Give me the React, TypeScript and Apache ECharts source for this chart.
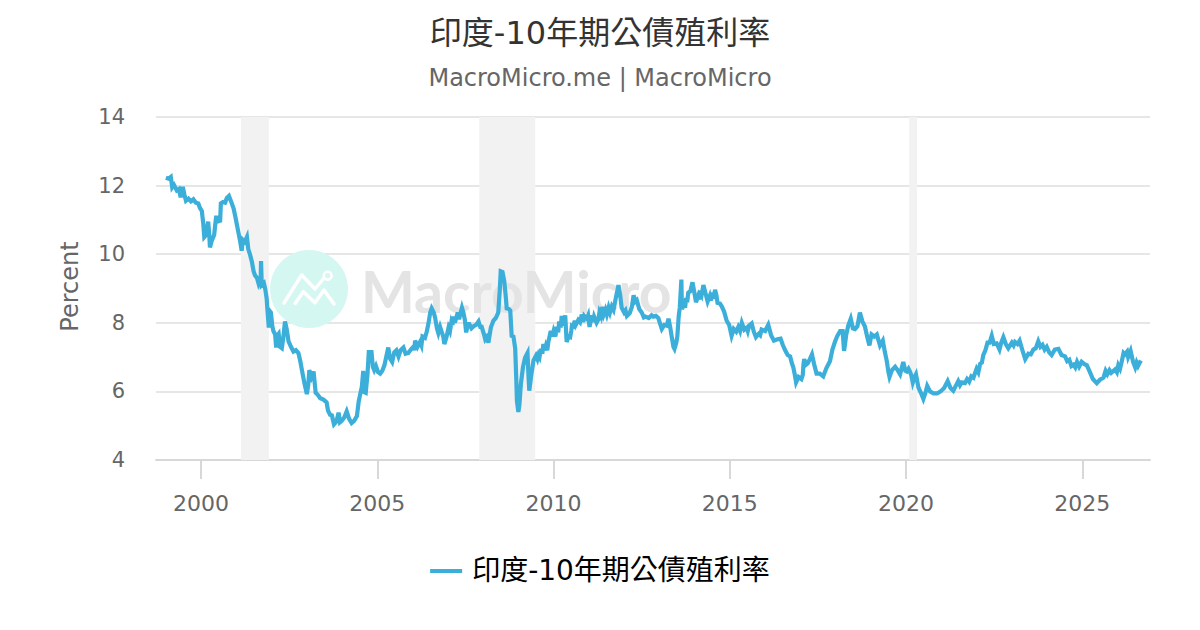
import React, { useEffect, useRef } from "react";
import * as echarts from "echarts";

const TITLE = "印度-10年期公債殖利率";
const SUBTITLE = "MacroMicro.me | MacroMicro";
const Y_NAME = "Percent";
const X_TICKS = [2000, 2005, 2010, 2015, 2020, 2025];
const RECESSIONS: [number, number][] = [
  [2001.13, 2001.92],
  [2007.89, 2009.48],
  [2020.09, 2020.31],
];

const y1999to2002: [number, number][] = [
  [1999.0, 12.23], [1999.08, 12.2], [1999.14, 12.25], [1999.18, 11.95], [1999.23, 12.02], [1999.31, 11.86], [1999.37, 11.9], [1999.42, 11.66],
  [1999.48, 11.96], [1999.53, 11.72], [1999.57, 11.56], [1999.64, 11.62], [1999.71, 11.54], [1999.78, 11.6], [1999.85, 11.5], [1999.92, 11.48],
  [1999.97, 11.34], [2000.02, 11.26], [2000.06, 10.9], [2000.09, 10.5], [2000.14, 10.56], [2000.2, 10.95], [2000.23, 10.6], [2000.25, 10.2],
  [2000.31, 10.42], [2000.37, 10.56], [2000.4, 10.86], [2000.43, 11.12], [2000.48, 10.96], [2000.54, 10.98], [2000.56, 11.48], [2000.62, 11.52],
  [2000.68, 11.5], [2000.73, 11.64], [2000.79, 11.7], [2000.85, 11.54], [2000.92, 11.34], [2000.97, 11.1], [2001.03, 10.78], [2001.08, 10.52],
  [2001.11, 10.36], [2001.15, 10.1], [2001.18, 10.42], [2001.24, 10.36], [2001.3, 10.5], [2001.34, 10.14], [2001.39, 9.98], [2001.44, 9.78],
  [2001.49, 9.5], [2001.53, 9.38], [2001.58, 9.32], [2001.63, 9.14], [2001.69, 9.3], [2001.7, 9.8], [2001.72, 9.1], [2001.78, 9.16],
  [2001.82, 8.98], [2001.86, 8.7], [2001.88, 8.4], [2001.92, 7.86], [2001.95, 8.34], [2001.98, 8.3], [2002.02, 7.9], [2002.05, 7.76],
  [2002.1, 7.66], [2002.13, 7.28], [2002.17, 7.64], [2002.2, 7.68], [2002.24, 7.3], [2002.29, 7.26], [2002.33, 7.56], [2002.38, 8.04],
  [2002.43, 7.8], [2002.48, 7.46], [2002.55, 7.3], [2002.62, 7.16], [2002.69, 7.2], [2002.76, 7.12], [2002.81, 6.9],
];

const y2002to2005: [number, number][] = [
  [2002.86, 6.62], [2002.93, 6.24], [2003.0, 5.92], [2003.04, 6.2], [2003.07, 6.62], [2003.13, 6.42], [2003.19, 6.58], [2003.25, 5.96],
  [2003.31, 5.9], [2003.38, 5.8], [2003.47, 5.76], [2003.56, 5.68], [2003.6, 5.44], [2003.66, 5.32], [2003.71, 5.3], [2003.77, 5.04],
  [2003.84, 5.12], [2003.9, 5.38], [2003.94, 5.1], [2003.99, 5.14], [2004.06, 5.24], [2004.13, 5.42], [2004.2, 5.2], [2004.27, 5.08],
  [2004.34, 5.14], [2004.42, 5.28], [2004.47, 5.7], [2004.51, 5.9], [2004.56, 6.14], [2004.6, 6.6], [2004.63, 5.98], [2004.67, 5.96],
  [2004.72, 6.5], [2004.76, 7.2], [2004.79, 6.9], [2004.83, 7.2], [2004.87, 6.72], [2004.91, 6.62], [2004.96, 6.74], [2005.02, 6.56],
  [2005.08, 6.52], [2005.14, 6.6], [2005.2, 6.76], [2005.25, 7.0], [2005.31, 7.28], [2005.36, 6.96], [2005.42, 6.86], [2005.48, 7.14],
  [2005.54, 7.2], [2005.6, 7.02], [2005.66, 7.2], [2005.74, 7.28], [2005.8, 7.1], [2005.88, 7.12],
];

const y2006to2009: [number, number][] = [
  [2005.95, 7.22], [2006.02, 7.3], [2006.05, 7.2], [2006.07, 7.48], [2006.14, 7.3], [2006.21, 7.44], [2006.25, 7.34], [2006.28, 7.6], [2006.35, 7.56], [2006.4, 7.74],
  [2006.45, 7.98], [2006.5, 8.3], [2006.54, 8.42], [2006.6, 8.3], [2006.64, 8.14], [2006.69, 7.84], [2006.73, 7.7], [2006.78, 7.88],
  [2006.83, 7.72], [2006.87, 7.6], [2006.9, 7.38], [2006.96, 7.58], [2007.02, 7.86], [2007.06, 7.76], [2007.1, 8.02], [2007.13, 7.94], [2007.16, 8.18], [2007.2, 8.0],
  [2007.28, 8.3], [2007.32, 8.1], [2007.35, 8.24], [2007.4, 8.44], [2007.44, 8.3], [2007.48, 8.1], [2007.52, 7.72], [2007.57, 7.96], [2007.61, 7.96],
  [2007.67, 7.84], [2007.73, 7.9], [2007.8, 7.94], [2007.87, 8.04], [2007.92, 7.88], [2007.96, 7.88], [2008.02, 7.68], [2008.06, 7.52],
  [2008.1, 7.58], [2008.15, 7.42], [2008.22, 7.86], [2008.29, 8.06], [2008.36, 8.14], [2008.43, 8.3], [2008.47, 8.9], [2008.5, 9.5],
  [2008.55, 9.48], [2008.6, 9.22], [2008.64, 8.8], [2008.67, 8.42], [2008.73, 8.4], [2008.77, 8.36], [2008.81, 7.62], [2008.86, 7.6],
  [2008.91, 7.26], [2008.94, 6.4], [2008.96, 5.72], [2009.0, 5.4], [2009.03, 5.6], [2009.07, 6.2], [2009.13, 6.7], [2009.19, 6.98],
  [2009.26, 7.12], [2009.29, 6.4], [2009.31, 6.02], [2009.37, 6.5], [2009.43, 6.9], [2009.5, 7.04], [2009.54, 6.94], [2009.57, 7.06], [2009.6, 7.0], [2009.64, 7.24],
  [2009.68, 7.1], [2009.71, 7.38], [2009.75, 7.2], [2009.78, 7.32], [2009.82, 7.2], [2009.85, 7.44], [2009.92, 7.76],
];

const y2010to2013: [number, number][] = [
  [2009.96, 7.6], [2010.0, 7.76], [2010.05, 7.6], [2010.09, 7.88], [2010.13, 7.72], [2010.16, 8.04], [2010.2, 7.86], [2010.23, 8.2], [2010.28, 7.92], [2010.33, 8.22], [2010.37, 7.44], [2010.42, 7.6],
  [2010.47, 7.58], [2010.5, 7.76], [2010.52, 7.92], [2010.56, 7.9], [2010.6, 8.06], [2010.63, 7.94], [2010.7, 8.08], [2010.75, 8.02], [2010.8, 8.24], [2010.84, 8.02], [2010.87, 8.2],
  [2010.94, 8.12], [2010.98, 8.22], [2011.02, 7.88], [2011.08, 8.22], [2011.12, 8.02], [2011.15, 8.18], [2011.22, 8.0], [2011.27, 8.1], [2011.3, 8.3], [2011.34, 8.2], [2011.37, 8.46],
  [2011.42, 8.24], [2011.47, 8.38], [2011.51, 8.24], [2011.56, 8.44], [2011.6, 8.3], [2011.65, 8.48], [2011.7, 8.38], [2011.76, 8.7], [2011.84, 9.1], [2011.89, 8.8], [2011.93, 8.44],
  [2012.0, 8.3], [2012.04, 8.36], [2012.08, 8.2], [2012.16, 8.28], [2012.22, 8.46], [2012.27, 8.8], [2012.32, 8.62], [2012.36, 8.66], [2012.43, 8.4],
  [2012.5, 8.3], [2012.56, 8.16], [2012.6, 8.18], [2012.7, 8.14], [2012.78, 8.22], [2012.83, 8.18], [2012.9, 8.2], [2012.97, 8.14],
  [2013.02, 7.98], [2013.07, 7.82], [2013.14, 7.94], [2013.21, 7.92], [2013.26, 8.12], [2013.31, 7.86], [2013.35, 7.6], [2013.4, 7.3],
  [2013.43, 7.24], [2013.48, 7.42], [2013.51, 7.6], [2013.55, 8.2], [2013.58, 8.44], [2013.625, 9.26], [2013.64, 8.4], [2013.7, 8.54],
  [2013.73, 8.44], [2013.76, 8.72], [2013.79, 8.6], [2013.82, 8.88], [2013.88, 8.92],
];

const y2014to2017: [number, number][] = [
  [2013.94, 9.18], [2013.99, 8.9], [2014.04, 8.6], [2014.1, 8.78], [2014.13, 8.68], [2014.15, 8.94], [2014.2, 8.82], [2014.25, 9.1], [2014.31, 8.86],
  [2014.37, 8.62], [2014.43, 8.78], [2014.46, 8.64], [2014.49, 8.88], [2014.54, 8.7], [2014.58, 8.96], [2014.62, 8.8], [2014.65, 8.58], [2014.72, 8.56],
  [2014.77, 8.48], [2014.84, 8.32], [2014.91, 8.06], [2014.98, 7.94], [2015.05, 7.62], [2015.11, 7.82], [2015.18, 7.74], [2015.24, 7.88],
  [2015.29, 7.76], [2015.34, 8.0], [2015.41, 7.8], [2015.48, 7.86], [2015.51, 7.76], [2015.55, 7.92], [2015.62, 7.98], [2015.68, 7.74], [2015.74, 7.58],
  [2015.82, 7.68], [2015.86, 7.64], [2015.9, 7.8], [2016.0, 7.76], [2016.09, 7.94], [2016.17, 7.64], [2016.25, 7.48], [2016.35, 7.52], [2016.44, 7.54],
  [2016.5, 7.36], [2016.57, 7.2], [2016.64, 7.06], [2016.71, 7.02], [2016.76, 6.82], [2016.8, 6.7], [2016.84, 6.5], [2016.88, 6.26],
  [2016.95, 6.42], [2017.03, 6.36],
];

const y2017to2020: [number, number][] = [
  [2017.07, 6.48], [2017.09, 6.8], [2017.11, 6.94], [2017.16, 6.78], [2017.21, 6.82], [2017.27, 6.94], [2017.33, 7.08], [2017.39, 6.8],
  [2017.46, 6.52], [2017.55, 6.52], [2017.65, 6.44], [2017.74, 6.68], [2017.84, 6.88], [2017.91, 7.22], [2017.98, 7.44], [2018.05, 7.62],
  [2018.13, 7.76], [2018.2, 7.76], [2018.24, 7.18], [2018.27, 7.4], [2018.3, 7.64], [2018.36, 7.92], [2018.43, 8.12], [2018.49, 7.84],
  [2018.55, 7.82], [2018.62, 7.9], [2018.69, 8.3], [2018.76, 8.04], [2018.83, 7.9], [2018.9, 7.58], [2018.96, 7.34], [2019.02, 7.66],
  [2019.1, 7.6], [2019.17, 7.66], [2019.22, 7.48], [2019.26, 7.34], [2019.34, 7.48], [2019.4, 7.14], [2019.45, 6.9], [2019.5, 6.56],
  [2019.53, 6.42], [2019.6, 6.62], [2019.69, 6.72], [2019.76, 6.62], [2019.83, 6.5], [2019.92, 6.86], [2019.98, 6.6], [2020.02, 6.58],
  [2020.07, 6.66], [2020.11, 6.58], [2020.15, 6.46], [2020.19, 6.26], [2020.24, 6.42], [2020.28, 6.5],
];

const y2020to2026: [number, number][] = [
  [2020.35, 6.12], [2020.42, 5.96], [2020.49, 5.78], [2020.55, 5.96], [2020.6, 6.16], [2020.68, 6.0], [2020.78, 5.94], [2020.88, 5.94],
  [2020.98, 6.0], [2021.08, 6.1], [2021.18, 6.3], [2021.26, 6.1], [2021.34, 6.02], [2021.41, 6.16], [2021.48, 6.3], [2021.53, 6.18], [2021.58, 6.26],
  [2021.67, 6.24], [2021.73, 6.36], [2021.79, 6.28], [2021.85, 6.44], [2021.91, 6.4], [2022.0, 6.66], [2022.05, 6.56], [2022.1, 6.8], [2022.15, 6.84], [2022.19, 7.06], [2022.25, 7.2],
  [2022.31, 7.42], [2022.37, 7.42], [2022.43, 7.62], [2022.49, 7.38], [2022.57, 7.4], [2022.65, 7.22], [2022.7, 7.42], [2022.76, 7.58],
  [2022.83, 7.38], [2022.9, 7.26], [2023.0, 7.42], [2023.05, 7.34], [2023.09, 7.44], [2023.16, 7.38], [2023.22, 7.48], [2023.3, 7.2], [2023.38, 6.94], [2023.47, 7.1],
  [2023.54, 7.08], [2023.61, 7.22], [2023.68, 7.26], [2023.75, 7.46], [2023.81, 7.3], [2023.87, 7.36], [2023.93, 7.22], [2023.99, 7.3], [2024.06, 7.14], [2024.13, 7.06], [2024.22, 7.22],
  [2024.32, 7.24], [2024.41, 7.06], [2024.51, 7.02], [2024.57, 6.88], [2024.63, 6.92], [2024.69, 6.74], [2024.75, 6.78], [2024.8, 6.7], [2024.85, 6.86], [2024.91, 6.72], [2024.98, 6.86], [2025.05, 6.8],
  [2025.13, 6.76], [2025.2, 6.6], [2025.3, 6.36], [2025.41, 6.24], [2025.5, 6.34], [2025.6, 6.4], [2025.66, 6.6], [2025.71, 6.5],
  [2025.77, 6.62], [2025.82, 6.54], [2025.93, 6.64], [2025.98, 6.56], [2026.02, 6.76], [2026.07, 6.66], [2026.12, 6.88], [2026.17, 7.12], [2026.21, 7.08], [2026.27, 7.16], [2026.3, 7.0], [2026.37, 7.18],
  [2026.44, 6.86], [2026.5, 6.7], [2026.54, 6.84], [2026.58, 6.74], [2026.66, 6.9],
];

const yieldSeries = [
  ...y1999to2002, ...y2002to2005, ...y2006to2009, ...y2010to2013,
  ...y2014to2017, ...y2017to2020, ...y2020to2026,
];

const CJK = '"DejaVu Sans", "Noto Sans CJK TC", sans-serif';
const LINE = "#3BAFDA";

export default function App() {
  const ref = useRef<HTMLDivElement>(null);
  useEffect(() => {
    document.body.style.margin = "0";
    const chart = echarts.init(ref.current!, undefined, { renderer: "svg" });
    chart.setOption({
      animation: false,
      backgroundColor: "#ffffff",
      title: {
        text: TITLE,
        subtext: SUBTITLE,
        left: 595,
        textAlign: "center",
        top: 12,
        itemGap: 17,
        textStyle: { fontFamily: CJK, fontSize: 32, fontWeight: "normal", color: "#333333" },
        subtextStyle: { fontFamily: CJK, fontSize: 24, color: "#666666" },
      },
      legend: {
        bottom: 40,
        left: "center",
        itemWidth: 32,
        itemHeight: 4,
        itemGap: 8,
        icon: "rect",
        textStyle: { fontFamily: CJK, fontSize: 28, color: "#000000", padding: [0, 0, 0, 5] },
        data: [TITLE],
      },
      grid: { left: 156, right: 50, top: 117, bottom: 170, containLabel: false },
      xAxis: {
        type: "value",
        min: 1998.72,
        max: 2026.92,
        splitLine: { show: false },
        axisLine: { lineStyle: { color: "#d8d8d8", width: 2 } },
        axisTick: { show: true, length: 19, customValues: X_TICKS, lineStyle: { color: "#d8d8d8", width: 2 } },
        axisLabel: {
          customValues: X_TICKS,
          formatter: (v: number) => String(v),
          color: "#666666",
          fontFamily: "DejaVu Sans",
          fontSize: 22,
          margin: 32,
        },
      },
      yAxis: {
        type: "value",
        min: 4,
        max: 14,
        interval: 2,
        name: Y_NAME,
        nameLocation: "middle",
        nameRotate: 90,
        nameGap: 74,
        nameTextStyle: { color: "#666666", fontFamily: "DejaVu Sans", fontSize: 24, padding: [0, 0, 0, 4] },
        axisLine: { show: false },
        axisTick: { show: false },
        axisLabel: { color: "#666666", fontFamily: "DejaVu Sans", fontSize: 21, margin: 31, padding: [4, 0, 0, 0] },
        splitLine: { lineStyle: { color: "#e6e6e6", width: 2 } },
      },
      graphic: {
        elements: [
          { type: "circle", z: 2, shape: { cx: 309, cy: 289, r: 39 }, style: { fill: "#d5f7f1" } },
          { type: "polyline", z: 2, shape: { points: [[284, 303], [301.7, 275], [315, 289], [324, 278]] }, style: { stroke: "#fff", lineWidth: 3.5, fill: "none", lineCap: "round", lineJoin: "round" } },
          { type: "polyline", z: 2, shape: { points: [[295.3, 303.3], [303.3, 291.7], [315, 302.7], [324, 290], [334, 304]] }, style: { stroke: "#fff", lineWidth: 3.5, fill: "none", lineCap: "round", lineJoin: "round" } },
          { type: "circle", z: 2, shape: { cx: 327.7, cy: 275.7, r: 4 }, style: { fill: "none", stroke: "#fff", lineWidth: 2.5 } },
          { type: "text", z: 2, x: 361, y: 262, style: { text: "MacroMicro", fontFamily: "Lato", fontWeight: "bold", fontSize: 57, fill: "#e4e4e4" } },
        ],
      },
      series: [
        {
          name: TITLE,
          type: "line",
          data: yieldSeries,
          showSymbol: false,
          symbol: "none",
          lineStyle: { color: LINE, width: 4.2, join: "miter" },
          itemStyle: { color: LINE },
          z: 3,
          markArea: {
            z: 1,
            silent: true,
            itemStyle: { color: "#f2f2f2", opacity: 1 },
            label: { show: false },
            data: RECESSIONS.map(([a, b]) => [{ xAxis: a }, { xAxis: b }]),
          },
        },
      ],
    });
    return () => chart.dispose();
  }, []);
  return <div ref={ref} style={{ position: "absolute", left: 0, top: 0, width: 1200, height: 630 }} />;
}
